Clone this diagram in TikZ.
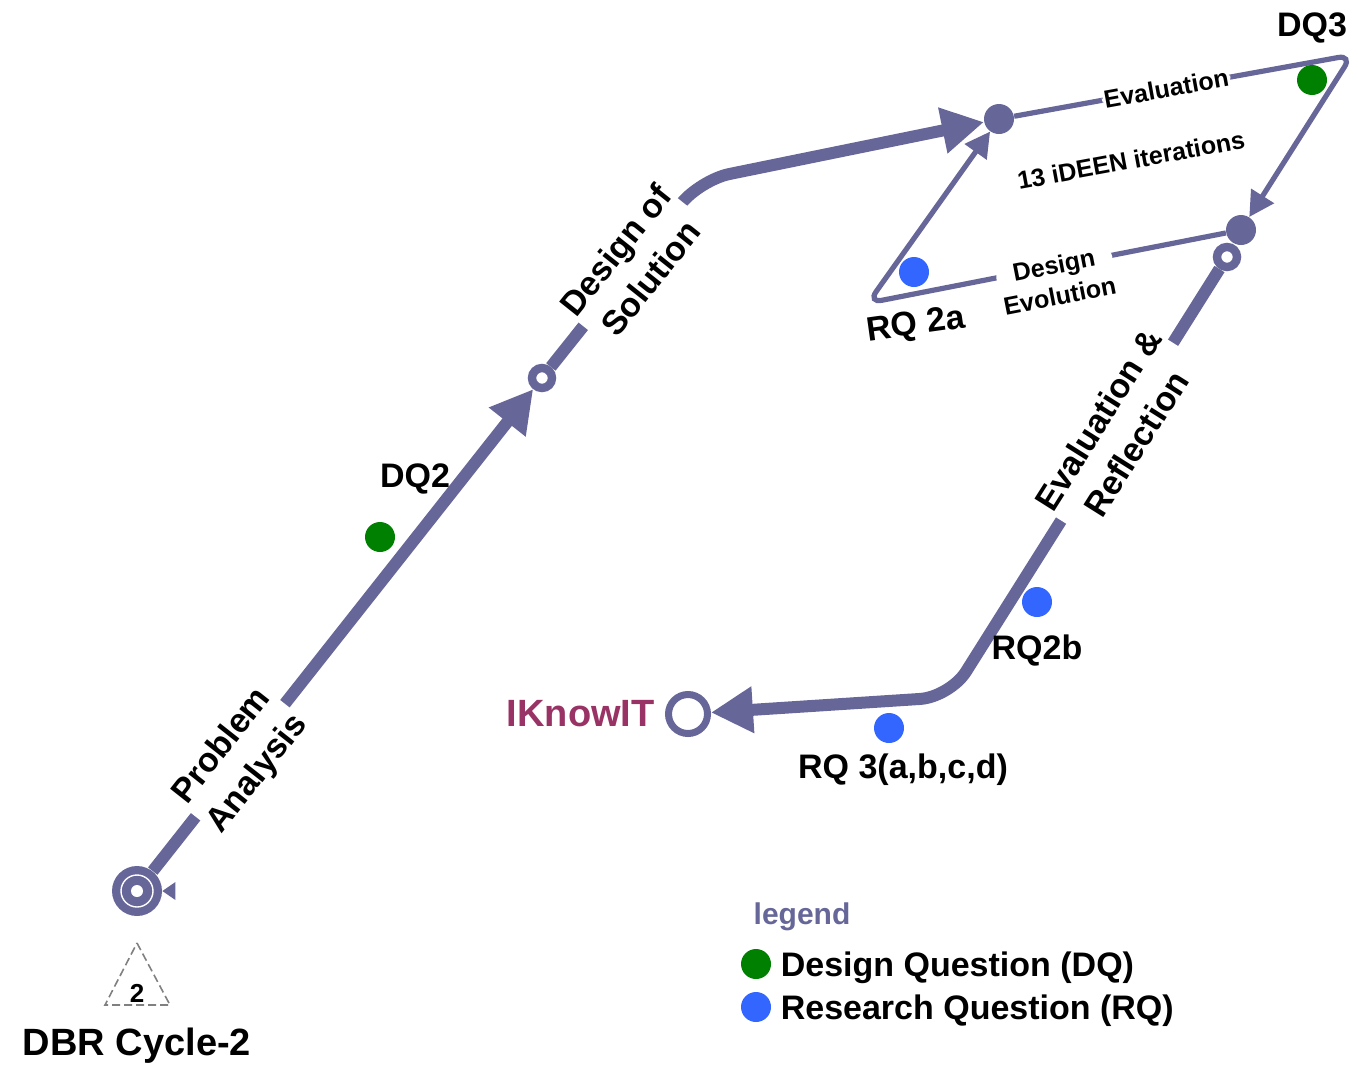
\documentclass[tikz,border=0pt]{standalone}
\usepackage{fontspec}
\setmainfont{Liberation Sans}
\usepackage{tikz}
\usetikzlibrary{positioning,arrows.meta}

\definecolor{flowc}{RGB}{102,102,153}
\definecolor{dqgreen}{RGB}{0,128,0}
\definecolor{rqblue}{RGB}{51,102,255}
\definecolor{iknowc}{RGB}{153,51,102}

\tikzset{
  flow/.style={draw=flowc, line width=6pt},
  loopline/.style={draw=flowc, line width=2.6pt},
  gap/.style={fill=white, sloped, align=center, inner sep=1pt},
  stagelbl/.style={font=\fontsize{17}{22.5}\selectfont\bfseries},
  looplbl/.style={font=\fontsize{12.5}{15.5}\selectfont\bfseries},
  qlbl/.style={font=\fontsize{17}{20}\selectfont\bfseries, inner sep=1pt},
  biglbl/.style={font=\fontsize{19}{21}\selectfont\bfseries, inner sep=1pt},
  hub/.style={circle, fill=flowc, minimum size=15pt, inner sep=0pt},
  ring/.style={circle, draw=flowc, fill=white, line width=4.2pt, minimum size=10pt, inner sep=0pt},
  dq/.style={circle, fill=dqgreen, minimum size=15pt, inner sep=0pt},
  rq/.style={circle, fill=rqblue, minimum size=15pt, inner sep=0pt},
  bigtip/.style={-{Triangle[length=21pt,width=22pt]}},
  smalltip/.style={-{Triangle[length=12.5pt,width=13pt]}},
}

\begin{document}
\begin{tikzpicture}[x=0.5pt, y=-0.5pt]
  \useasboundingbox (0,0) rectangle (1358,1066);

  % start and end of the cycle
  \node [circle, fill=flowc, minimum size=25pt, inner sep=0pt] (start) at (137,891) {};
  \draw [white, line width=0.7pt] (start) circle (8pt);
  \fill [white] (start) circle (3pt);
  \fill [flowc] (start.east) -- ++(13,-9) -- ++(0,18) -- cycle;
  \node [circle, draw=flowc, line width=3.5pt, minimum size=19.5pt, inner sep=0pt] (iknow) at (688,714) {};
  \node [biglbl, iknowc, left=4pt of iknow] (iknowl) {IKnowIT};

  % waypoints
  \node [ring] (s1) at (542,378) {};
  \node [ring] (r1) at (1227,257) {};
  \node [hub] (e1) at (999,119) {};
  \node [hub] (e2) at (1241,230) {};
  \coordinate (c1) at (700,180);
  \coordinate (c2) at (950,697);
  \coordinate (c3) at (1352,55);
  \coordinate (c4) at (868,303);

  % main flow
  \draw [flow, bigtip] (start) -- node [gap, stagelbl, pos=0.23] {Problem\\Analysis} (s1);
  \draw [flow, bigtip, rounded corners=15pt] (s1) -- node [gap, stagelbl, pos=0.55] {Design of\\Solution} (c1) -- (e1);
  \draw [flow, bigtip, rounded corners=15pt] (r1) -- node [gap, stagelbl, pos=0.38] {Evaluation \&\\Reflection} (c2) -- (iknow);

  % iteration loop
  \draw [loopline, smalltip, rounded corners=7pt] (e1) -- node [gap, looplbl, pos=0.45] {Evaluation} (c3) -- (e2);
  \draw [loopline, smalltip, rounded corners=7pt] (e2) -- node [gap, looplbl, pos=0.48, yshift=-7pt] {Design\\Evolution} (c4) -- (e1);
  \node [looplbl, rotate=10.5] (iter) at (1131,160) {13 iDEEN iterations};

  % questions
  \node [dq] (dq2) at (380,537) {};
  \node [qlbl] (dq2l) at (415,479) {DQ2};
  \node [dq] (dq3) at (1312,80) {};
  \node [qlbl] (dq3l) at (1312,28) {DQ3};
  \node [rq] (rq2a) at (914,272) {};
  \node [qlbl, rotate=8] (rq2al) at (916,326) {RQ 2a};
  \node [rq] (rq2b) at (1037,602) {};
  \node [qlbl] (rq2bl) at (1037,651) {RQ2b};
  \node [rq] (rq3) at (889,728) {};
  \node [qlbl] (rq3l) at (903,770) {RQ 3(a,b,c,d)};

  % cycle marker
  \node [font=\fontsize{13}{14}\selectfont\bfseries] (cycnum) at (137,993) {2};
  \draw [gray, dash pattern=on 4pt off 2pt, line width=0.8pt] (137,943) -- (170,1005) -- (105,1005) -- cycle;
  \node [biglbl] (cyc) at (137,1046) {DBR Cycle-2};

  % legend
  \node [qlbl, flowc, font=\fontsize{15}{17}\selectfont\bfseries] (leg) at (802,917) {legend};
  \node [dq] (dqkey) at (756,964) {};
  \node [qlbl, right=3.5pt of dqkey, yshift=-2pt] (dqtext) {Design Question (DQ)};
  \node [rq] (rqkey) at (756,1007) {};
  \node [qlbl, right=3.5pt of rqkey, yshift=-2pt] (rqtext) {Research Question (RQ)};
\end{tikzpicture}
\end{document}
